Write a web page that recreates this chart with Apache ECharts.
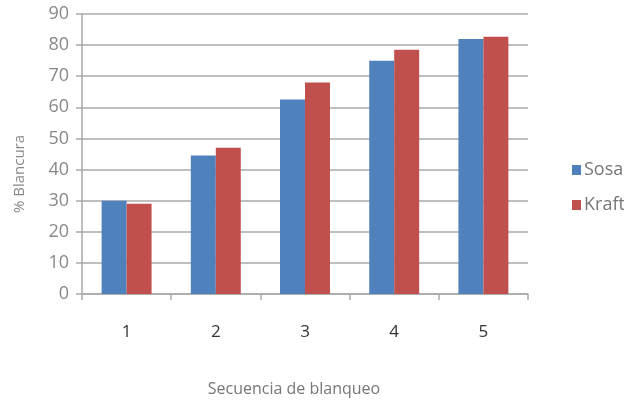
<!DOCTYPE html>
<html><head><meta charset="utf-8">
<script src="https://cdn.jsdelivr.net/npm/echarts@6/dist/echarts.min.js"></script>
<style>html,body{margin:0;padding:0;background:#fff}#c{width:624px;height:402px}</style>
</head><body><div id="c"></div>
<script>
const categories = ['1','2','3','4','5'];
const sosa = [30, 44.5, 62.5, 75, 82];
const kraft = [29, 47, 68, 78.5, 82.7];
const yTicks = [0,10,20,30,40,50,60,70,80,90];
const seriesNames = ['Sosa','Kraft'];

const chart = echarts.init(document.getElementById('c'), null, {renderer:'canvas'});
chart.setOption({
  animation:false,
  backgroundColor:'#fff',
  textStyle:{fontFamily:'Open Sans'},
  grid:{left:82, right:96, top:14, bottom:107, containLabel:false},
  legend:{
    orient:'vertical', left:572, top:161, padding:0, itemWidth:9, itemHeight:10, itemGap:17,
    icon:'rect',
    textStyle:{color:'#777', fontSize:18, fontFamily:'Open Sans', padding:[0,0,0,-2]},
    data:seriesNames
  },
  graphic:[{
    type:'text', x:20, y:174, rotation:Math.PI/2,
    style:{text:'% Blancura', fill:'#888', font:'15px "Open Sans"', textAlign:'center', textVerticalAlign:'middle'}
  }],
  xAxis:{
    type:'category', data:categories,
    name:'Secuencia de blanqueo', nameLocation:'middle', nameGap:87,
    nameTextStyle:{color:'#777', fontSize:16, padding:[0,22,0,0]},
    axisLine:{lineStyle:{color:'#aaa', width:1.5}},
    axisTick:{show:true, length:6, lineStyle:{color:'#aaa', width:1.5}},
    axisLabel:{color:'#333', fontSize:17, margin:30}
  },
  yAxis:{
    type:'value', min:0, max:90, interval:10,
    axisLine:{show:true, lineStyle:{color:'#aaa', width:1.5}},
    axisTick:{show:true, length:6, lineStyle:{color:'#aaa', width:1.5}},
    axisLabel:{color:'#888', fontSize:18, margin:13,
      formatter:v=> yTicks.includes(v) ? String(v) : ''},
    splitLine:{lineStyle:{color:'#aaa', width:1.5}}
  },
  series:[
    {name:seriesNames[0], type:'bar', data:sosa, barGap:'0%', barCategoryGap:'44%',
     itemStyle:{color:'#4f81bd'}},
    {name:seriesNames[1], type:'bar', data:kraft, barGap:'0%', barCategoryGap:'44%',
     itemStyle:{color:'#c0504d'}}
  ]
});
</script></body></html>
